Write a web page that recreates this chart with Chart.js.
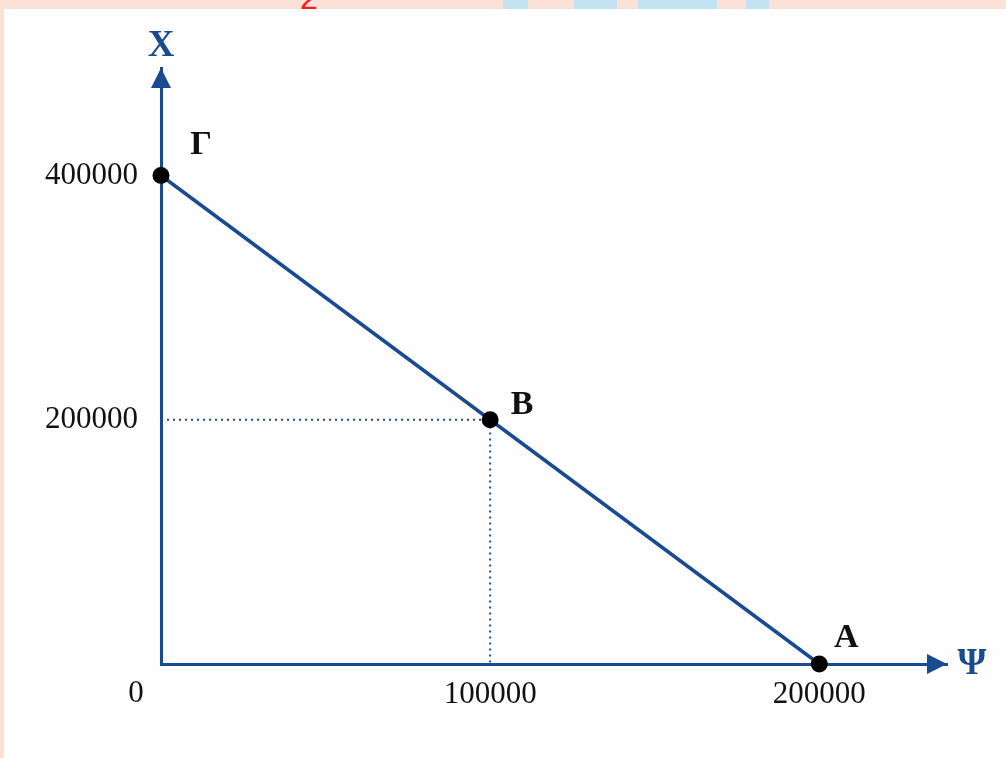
<!DOCTYPE html>
<html>
<head>
<meta charset="utf-8">
<script src="https://cdn.jsdelivr.net/npm/chart.js@4.4.1/dist/chart.umd.min.js"></script>
<style>
  html, body { margin: 0; padding: 0; }
  body { width: 1006px; height: 758px; background: #fce2d6; position: relative; overflow: hidden; }
  .wm { position: absolute; top: 0; height: 9px; background: #c2e3f2; }
  #red2 { position: absolute; left: 300px; top: -18px; font: 32px "Liberation Sans", Arial, sans-serif; line-height: 32px; color: #ff1a1a; }
  #panel { position: absolute; left: 4px; top: 9px; right: 0; bottom: 0; background: #fefefe; }
  #wrap { position: absolute; left: 0; top: 0; width: 1006px; height: 758px; }
</style>
</head>
<body>
<!-- watermark remains above the white sheet -->
<div class="wm" style="left:503px;width:25px"></div>
<div class="wm" style="left:574px;width:43px"></div>
<div class="wm" style="left:638px;width:79px"></div>
<div class="wm" style="left:746px;width:23px"></div>
<div id="red2">2</div>
<div id="panel"></div>
<div id="wrap"><canvas id="ppfChart"></canvas></div>

<script>
// === Data (καμπύλη παραγωγικών δυνατοτήτων) ===
const pointNames = ["Γ", "B", "A"];
const psiValues = [0, 100000, 200000];     // Ψ axis
const xValues = [400000, 200000, 0];       // X axis
const psiTicks = [0, 100000, 200000];
const xTicks = [200000, 400000];

const BLUE = "#1a4b90";
const SERIF = "'Liberation Serif', 'Times New Roman', serif";

const curve = psiValues.map((v, i) => ({ x: v, y: xValues[i] }));
// dotted guides from Γ and B to the axes
const guideG = [{ x: psiValues[0], y: xValues[0] }, { x: psiValues[0], y: 0 }];
const guideB = [{ x: 0, y: xValues[1] }, { x: psiValues[1], y: xValues[1] }, { x: psiValues[1], y: 0 }];

// arrows, axis names, origin "0", point letters
const decorPlugin = {
  id: "decor",
  afterDatasetsDraw(chart) {
    const { ctx, chartArea: a, scales } = chart;
    ctx.save();
    ctx.fillStyle = BLUE;
    ctx.beginPath();
    ctx.moveTo(a.left, a.top);
    ctx.lineTo(a.left - 10, a.top + 20);
    ctx.lineTo(a.left + 10, a.top + 20);
    ctx.closePath();
    ctx.fill();
    ctx.beginPath();
    ctx.moveTo(a.right, a.bottom);
    ctx.lineTo(a.right - 20, a.bottom - 10);
    ctx.lineTo(a.right - 20, a.bottom + 10);
    ctx.closePath();
    ctx.fill();

    ctx.textAlign = "center";
    ctx.textBaseline = "middle";
    ctx.font = "bold 37px " + SERIF;
    ctx.fillText("X", a.left, a.top - 22);
    ctx.fillText("Ψ", a.right + 25, a.bottom);

    ctx.fillStyle = "#111";
    ctx.font = "31px " + SERIF;
    ctx.fillText("0", scales.x.getPixelForValue(0) - 25, a.bottom + 30);

    const offs = [[40, -30], [32, -15], [27, -26]];
    ctx.font = "bold 34px " + SERIF;
    chart.getDatasetMeta(0).data.forEach((pt, i) => {
      ctx.fillText(pointNames[i], pt.x + offs[i][0], pt.y + offs[i][1]);
    });
    ctx.restore();
  }
};

const ctx = document.getElementById("ppfChart");
new Chart(ctx, {
  type: "scatter",
  data: {
    datasets: [
      {
        data: curve,
        showLine: true,
        borderColor: BLUE,
        borderWidth: 3.5,
        pointRadius: 8.5,
        pointBackgroundColor: "#000",
        pointBorderWidth: 0,
        clip: false
      },
      {
        data: guideB,
        showLine: true,
        borderColor: BLUE,
        borderWidth: 2,
        borderDash: [2, 4],
        pointRadius: 0,
        clip: false
      },
      {
        data: guideG,
        showLine: true,
        borderColor: BLUE,
        borderWidth: 2,
        borderDash: [2, 4],
        pointRadius: 0,
        clip: false
      }
    ]
  },
  options: {
    responsive: true,
    maintainAspectRatio: false,
    animation: false,
    layout: { padding: { left: 41, right: 59, top: 68, bottom: 34 } },
    plugins: { legend: { display: false }, tooltip: { enabled: false } },
    scales: {
      x: {
        type: "linear",
        min: 0,
        max: 238800,
        afterBuildTicks: (s) => { s.ticks = psiTicks.map(v => ({ value: v })); },
        afterFit: (s) => { s.height = 60; },
        grid: { display: false, drawTicks: false },
        border: { display: true, color: BLUE, width: 3 },
        ticks: {
          autoSkip: false,
          maxRotation: 0,
          padding: 12,
          color: "#111",
          font: { family: SERIF, size: 31 },
          callback: (v) => (v === 0 ? "" : String(v))
        }
      },
      y: {
        type: "linear",
        min: 0,
        max: 488000,
        afterBuildTicks: (s) => { s.ticks = xTicks.map(v => ({ value: v })); },
        afterFit: (s) => { s.width = 120; },
        grid: { display: false, drawTicks: false },
        border: { display: true, color: BLUE, width: 3 },
        ticks: {
          autoSkip: false,
          padding: 23,
          color: "#111",
          font: { family: SERIF, size: 31 },
          callback: (v) => String(v)
        }
      }
    }
  },
  plugins: [decorPlugin]
});
</script>
</body>
</html>
